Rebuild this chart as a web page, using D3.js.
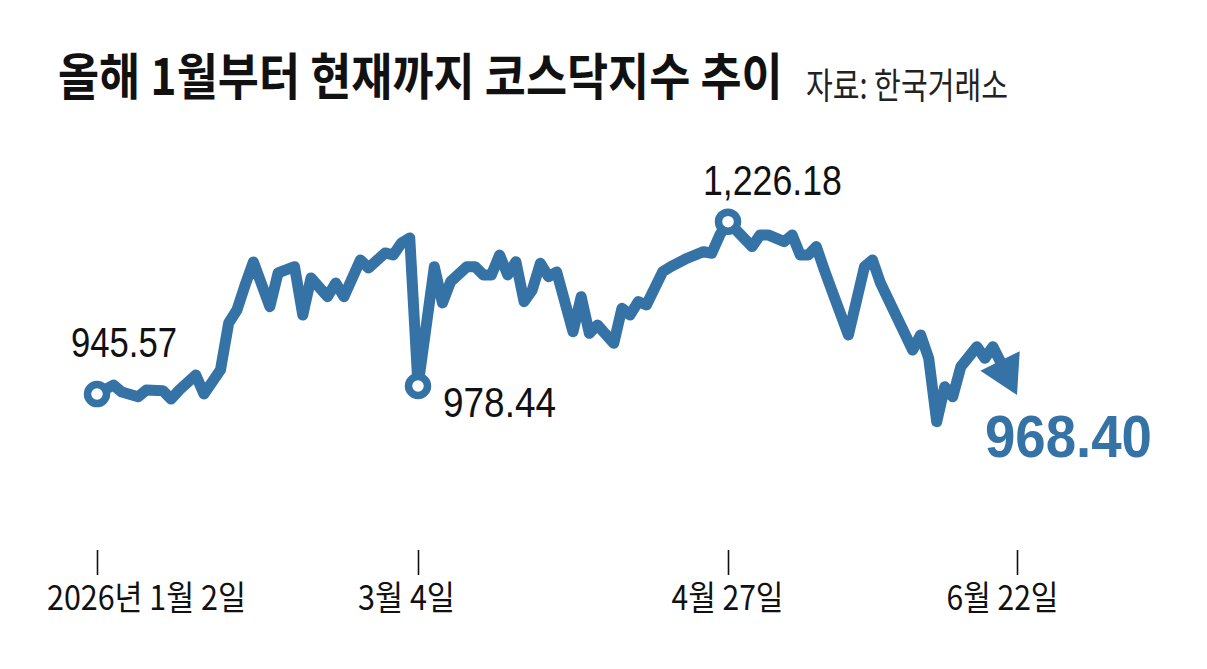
<!DOCTYPE html>
<html>
<head>
<meta charset="utf-8">
<script src="https://cdn.jsdelivr.net/npm/d3@7"></script>
<style>
  body { margin: 0; background: #fff; }
  svg { display: block; }
</style>
</head>
<body>
<svg id="chart"></svg>
<script>
// KOSDAQ, trading-day index counted from 2026-01-02
const days = [0, 2, 3, 5, 6, 8, 9, 10, 12, 13, 15, 16, 17, 18, 19, 21, 22, 24, 25, 26, 28, 29, 30, 32, 33, 35, 36, 37, 38, 39,
  41, 42, 43, 45, 46, 47, 48, 49, 50, 51, 52, 53, 54, 55, 56, 58, 59, 60, 61, 63, 64, 65, 66, 67, 69, 70, 72, 74, 75, 76, 77,
  80, 81, 82, 84, 85, 86, 87, 88, 89, 90, 92, 94, 95, 96, 97, 98, 100, 101, 102, 103, 104, 105, 106, 108, 109, 110, 113];
const values = [945.57, 960.2, 948.8, 941.2, 952.1, 950.9, 937.4, 952.1, 976.5, 945.6, 984.7, 1061.2, 1082.4, 1123.1, 1160.5, 1087.7, 1142.6, 1152.9, 1074.2, 1134.5, 1104.0, 1126.3, 1104.0, 1163.8, 1150.8, 1175.2, 1171.9, 1191.5, 1199.6, 958.6,
  1152.9, 1093.8, 1128.5, 1152.9, 1152.9, 1139.4, 1139.4, 1171.9, 1139.4, 1161.0, 1095.9, 1114.9, 1158.4, 1136.6, 1144.3, 1047.0, 1104.0, 1044.4, 1057.9, 1028.1, 1085.1, 1074.2, 1095.9, 1090.5, 1144.7, 1152.9, 1166.6, 1177.3, 1174.7, 1204.5, 1226.18,
  1185.5, 1204.5, 1204.5, 1193.6, 1204.5, 1171.9, 1171.9, 1185.5, 1147.5, 1111.7, 1041.7, 1152.9, 1163.8, 1125.9, 1098.7, 1071.5, 1017.2, 1041.7, 1003.7, 900.5, 957.5, 941.2, 990.0, 1022.6, 1003.7, 1022.6, 944.0];

const tickDays = [0, 39, 77, 113];
const tickLabels = ["2026년 1월 2일", "3월 4일", "4월 27일", "6월 22일"];

const markDays = [0, 39, 77];
const markLabels = ["945.57", "978.44", "1,226.18"];
const lastLabel = "968.40";

const title = "올해 1월부터 현재까지 코스닥지수 추이";
const source = "자료: 한국거래소";

const blue = "#3573a6";
const W = 1207, H = 669;
const kr = "'Noto Sans CJK KR', sans-serif";
const num = "'Liberation Sans Narrow', 'Liberation Sans', Arial, sans-serif";

const svg = d3.select("#chart").attr("width", W).attr("height", H);

const data = days.map((d, i) => ({ day: d, v: values[i] }));

// axis spacing isn't even in the print, so use the tick days as breakpoints
const x = d3.scaleLinear().domain(tickDays).range([97, 418, 728, 1017]);
const y = d3.scaleLinear().domain([900, 1250]).range([422, 207]);

// squeeze a text sideways to a given width (print fonts are condensed)
function fit(t, left, base, w) {
  const L = t.node().getComputedTextLength();
  t.attr("x", 0).attr("y", 0)
    .attr("transform", `translate(${left},${base}) scale(${w / L},1)`);
  return t;
}

// title + source
fit(svg.append("text")
  .style("font-family", kr)
  .style("font-weight", 700).style("font-size", "50px")
  .attr("fill", "#111")
  .text(title), 58, 95, 725);

fit(svg.append("text")
  .style("font-family", kr)
  .style("font-weight", 400).style("font-size", "36px")
  .attr("fill", "#222")
  .text(source), 806, 99, 202);

// x axis: only tick marks, no domain line
const axis = svg.append("g").attr("transform", "translate(0,550)")
  .call(d3.axisBottom(x).tickValues(tickDays).tickSize(25).tickFormat(""));
axis.select(".domain").remove();
axis.selectAll(".tick line").attr("stroke", "#111").attr("stroke-width", 1.6);

const labelShift = [49.5, -11.5, -0.5, -14.5];
const labelWidth = [199, 97, 112, 112];
const tickG = svg.append("g");
tickDays.forEach((d, i) => {
  const t = tickG.append("text")
    .style("font-family", kr)
    .style("font-size", "34px")
    .attr("fill", "#111")
    .text(tickLabels[i]);
  fit(t, x(d) + labelShift[i] - labelWidth[i] / 2, 610, labelWidth[i]);
});

// line, stopped short of the last point so the arrow head sits on it
const last = data[data.length - 1], prev = data[data.length - 2];
const px = x(last.day), py = y(last.v);
const dx = px - x(prev.day), dy = py - y(prev.v);
const len = Math.hypot(dx, dy);
const ux = dx / len, uy = dy / len;
const headLen = 38, headHalf = 22;
const bx = px - ux * headLen, by = py - uy * headLen;

const line = d3.line().x(d => d[0]).y(d => d[1]);
const pts = data.slice(0, -1).map(d => [x(d.day), y(d.v)]);
pts.push([bx + ux * 4, by + uy * 4]);

svg.append("path")
  .attr("d", line(pts))
  .attr("fill", "none")
  .attr("stroke", blue)
  .attr("stroke-width", 11)
  .attr("stroke-linejoin", "round")
  .attr("stroke-linecap", "round");

svg.append("path")
  .attr("d", d3.line()([
    [px, py],
    [bx - uy * headHalf, by + ux * headHalf],
    [bx + uy * headHalf, by - ux * headHalf]
  ]) + "Z")
  .attr("fill", blue);

// marked points
const marks = markDays.map((d, i) => ({ day: d, v: values[days.indexOf(d)], text: markLabels[i] }));
svg.append("g").selectAll("circle")
  .data(marks)
  .join("circle")
  .attr("cx", d => x(d.day))
  .attr("cy", d => y(d.v))
  .attr("r", 9.5)
  .attr("fill", "#fff")
  .attr("stroke", blue)
  .attr("stroke-width", 7.5);

const markPlace = [
  { dx: -26, dy: -37, w: 106 },
  { dx: 25, dy: 31, w: 113 },
  { dx: -25, dy: -27, w: 139 }
];
const markG = svg.append("g");
marks.forEach((m, i) => {
  const t = markG.append("text")
    .style("font-family", num)
    .style("font-size", "42px")
    .attr("fill", "#111")
    .text(m.text);
  fit(t, x(m.day) + markPlace[i].dx, y(m.v) + markPlace[i].dy, markPlace[i].w);
});

fit(svg.append("text")
  .style("font-family", "'Liberation Sans', Arial, sans-serif")
  .style("font-weight", 700)
  .style("font-size", "60px")
  .attr("fill", blue)
  .text(lastLabel), px - 32, py + 62, 167);
</script>
</body>
</html>
